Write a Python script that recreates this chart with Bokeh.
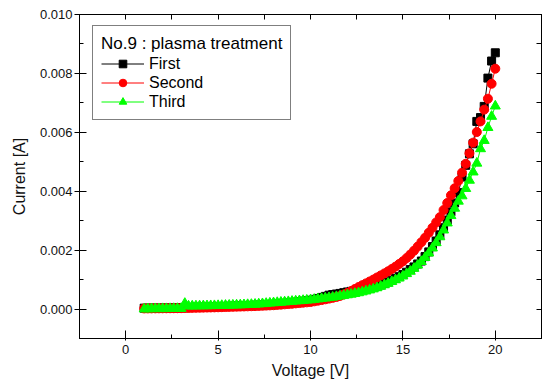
from bokeh.plotting import figure
from bokeh.models import (Legend, LegendItem, LinearAxis, Range1d, FixedTicker,
                          PrintfTickFormatter, ColumnDataSource)
from bokeh.embed import file_html
from bokeh.resources import INLINE

voltage = [1.0, 1.2, 1.4, 1.6, 1.8, 2.0, 2.2, 2.4, 2.6, 2.8,
           3.0, 3.2, 3.4, 3.6, 3.8, 4.0, 4.2, 4.4, 4.6, 4.8,
           5.0, 5.2, 5.4, 5.6, 5.8, 6.0, 6.2, 6.4, 6.6, 6.8,
           7.0, 7.2, 7.4, 7.6, 7.8, 8.0, 8.2, 8.4, 8.6, 8.8,
           9.0, 9.2, 9.4, 9.6, 9.8, 10.0, 10.2, 10.4, 10.6, 10.8,
           11.0, 11.2, 11.4, 11.6, 11.8, 12.0, 12.2, 12.4, 12.6, 12.8,
           13.0, 13.2, 13.4, 13.6, 13.8, 14.0, 14.2, 14.4, 14.6, 14.8,
           15.0, 15.2, 15.4, 15.6, 15.8, 16.0, 16.2, 16.4, 16.6, 16.8,
           17.0, 17.2, 17.4, 17.6, 17.8, 18.0, 18.2, 18.4, 18.6, 18.8,
           19.0, 19.2, 19.4, 19.6, 19.8, 20.0]

first = [0.000030, 0.000031, 0.000032, 0.000033, 0.000034, 0.000036, 0.000037, 0.000038, 0.000040, 0.000042,
         0.000045, 0.000048, 0.000052, 0.000055, 0.000058, 0.000062, 0.000065, 0.000069, 0.000072, 0.000076,
         0.000080, 0.000085, 0.000090, 0.000095, 0.000100, 0.000105, 0.000110, 0.000115, 0.000120, 0.000125,
         0.000130, 0.000135, 0.000140, 0.000148, 0.000155, 0.000160, 0.000172, 0.000184, 0.000196, 0.000208,
         0.000220, 0.000236, 0.000252, 0.000268, 0.000284, 0.000300, 0.000330, 0.000360, 0.000395, 0.000430,
         0.000470, 0.000490, 0.000510, 0.000530, 0.000555, 0.000580, 0.000600, 0.000620, 0.000640, 0.000660,
         0.000680, 0.000710, 0.000740, 0.000775, 0.000820, 0.000870, 0.000920, 0.000980, 0.001040, 0.001100,
         0.001170, 0.001250, 0.001340, 0.001430, 0.001530, 0.001630, 0.001780, 0.001940, 0.002120, 0.002310,
         0.002520, 0.002760, 0.003020, 0.003300, 0.003600, 0.003950, 0.004480, 0.004880, 0.005270, 0.005610,
         0.006370, 0.006500, 0.006880, 0.007840, 0.008420, 0.008700]

second = [0.000020, 0.000021, 0.000022, 0.000023, 0.000024, 0.000025, 0.000026, 0.000027, 0.000028, 0.000029,
          0.000030, 0.000033, 0.000036, 0.000039, 0.000042, 0.000045, 0.000048, 0.000051, 0.000054, 0.000057,
          0.000060, 0.000064, 0.000068, 0.000072, 0.000076, 0.000080, 0.000084, 0.000088, 0.000092, 0.000096,
          0.000100, 0.000106, 0.000112, 0.000118, 0.000124, 0.000130, 0.000140, 0.000150, 0.000160, 0.000170,
          0.000180, 0.000192, 0.000204, 0.000216, 0.000228, 0.000240, 0.000262, 0.000284, 0.000306, 0.000330,
          0.000355, 0.000380, 0.000410, 0.000445, 0.000495, 0.000550, 0.000610, 0.000680, 0.000745, 0.000810,
          0.000870, 0.000935, 0.001000, 0.001070, 0.001140, 0.001210, 0.001280, 0.001360, 0.001440, 0.001530,
          0.001620, 0.001730, 0.001850, 0.001980, 0.002120, 0.002270, 0.002420, 0.002590, 0.002760, 0.002940,
          0.003120, 0.003360, 0.003600, 0.003860, 0.004100, 0.004350, 0.004630, 0.004930, 0.005290, 0.005650,
          0.006010, 0.006370, 0.006770, 0.007140, 0.007650, 0.008160]

third = [0.000000, 0.000005, 0.000008, 0.000010, 0.000010, 0.000012, 0.000012, 0.000014, 0.000015, 0.000016,
         0.000018, 0.000190, 0.000100, 0.000102, 0.000104, 0.000106, 0.000108, 0.000110, 0.000112, 0.000114,
         0.000116, 0.000120, 0.000124, 0.000128, 0.000132, 0.000136, 0.000140, 0.000145, 0.000150, 0.000155,
         0.000160, 0.000170, 0.000180, 0.000190, 0.000200, 0.000210, 0.000220, 0.000230, 0.000240, 0.000250,
         0.000260, 0.000270, 0.000280, 0.000290, 0.000300, 0.000310, 0.000325, 0.000340, 0.000355, 0.000370,
         0.000385, 0.000400, 0.000420, 0.000440, 0.000460, 0.000480, 0.000500, 0.000525, 0.000550, 0.000580,
         0.000610, 0.000645, 0.000680, 0.000720, 0.000770, 0.000820, 0.000870, 0.000930, 0.000990, 0.001050,
         0.001120, 0.001200, 0.001280, 0.001380, 0.001490, 0.001610, 0.001750, 0.001900, 0.002070, 0.002250,
         0.002450, 0.002680, 0.002920, 0.003170, 0.003420, 0.003660, 0.003840, 0.004090, 0.004370, 0.004650,
         0.004950, 0.005440, 0.005720, 0.006160, 0.006540, 0.006890]

series_labels = ["First", "Second", "Third"]
legend_title = "No.9 : plasma treatment"
x_major = [0, 5, 10, 15, 20]
x_minor = [-2.5, 2.5, 7.5, 12.5, 17.5, 22.5]
y_major = [0.000, 0.002, 0.004, 0.006, 0.008, 0.010]
y_minor = [-0.001, 0.001, 0.003, 0.005, 0.007, 0.009]

FONT = "Liberation Sans"

p = figure(width=545, height=385, x_range=Range1d(-2.5, 22.5), y_range=Range1d(-0.001, 0.010),
           output_backend="svg", toolbar_location=None,
           min_border_left=79, min_border_top=14, min_border_right=4, min_border_bottom=47,
           x_axis_label="Voltage [V]", y_axis_label="Current [A]")
p.grid.visible = False
p.outline_line_color = "black"
p.outline_line_width = 1

src = ColumnDataSource(dict(v=voltage, a=first, b=second, c=third))

l1 = p.line("v", "a", source=src, line_color="black", line_width=1)
s1 = p.scatter("v", "a", source=src, marker="square", size=8, fill_color="black", line_color="black")
l2 = p.line("v", "b", source=src, line_color="red", line_width=1)
s2 = p.scatter("v", "b", source=src, marker="circle", size=9, fill_color="red", line_color="red")
l3 = p.line("v", "c", source=src, line_color="#00ff00", line_width=1)
s3 = p.scatter("v", "c", source=src, marker="triangle", size=10, fill_color="#00ff00", line_color="#00ff00")

xa = p.xaxis[0]
xa.ticker = FixedTicker(ticks=x_major, minor_ticks=x_minor)
xa.major_tick_in = 8
xa.major_tick_out = 2
xa.minor_tick_in = 4
xa.minor_tick_out = 0
xa.major_label_standoff = 4
xa.axis_label_standoff = 5

ya = p.yaxis[0]
ya.ticker = FixedTicker(ticks=y_major, minor_ticks=y_minor)
ya.formatter = PrintfTickFormatter(format="%.3f")
ya.major_tick_in = 7
ya.major_tick_out = 5
ya.minor_tick_in = 4
ya.minor_tick_out = 0
ya.major_label_standoff = 2
ya.axis_label_standoff = 9

for ax in (xa, ya):
    ax.axis_line_color = "black"
    ax.major_tick_line_color = "black"
    ax.minor_tick_line_color = "black"
    ax.major_label_text_font = FONT
    ax.major_label_text_font_size = "13px"
    ax.major_label_text_color = "#111111"
    ax.axis_label_text_font = FONT
    ax.axis_label_text_font_size = "16px"
    ax.axis_label_text_font_style = "normal"
    ax.axis_label_text_color = "#111111"

# mirrored axes: tick marks only (no labels)
top = LinearAxis(ticker=FixedTicker(ticks=[], minor_ticks=x_major + x_minor),
                 major_label_standoff=0, major_tick_in=0, major_tick_out=0,
                 minor_tick_in=5, minor_tick_out=0)
right = LinearAxis(ticker=FixedTicker(ticks=[], minor_ticks=y_major + y_minor),
                   major_label_standoff=0, major_tick_in=0, major_tick_out=0,
                   minor_tick_in=5, minor_tick_out=0)
p.add_layout(top, "above")
p.add_layout(right, "right")

legend = Legend(items=[LegendItem(label=series_labels[0], renderers=[l1, s1]),
                       LegendItem(label=series_labels[1], renderers=[l2, s2]),
                       LegendItem(label=series_labels[2], renderers=[l3, s3])],
                title=legend_title, location=(13, 218))
legend.border_line_color = "black"
legend.border_line_width = 1
legend.background_fill_alpha = 1
legend.padding = 8
legend.margin = 0
legend.spacing = 0
legend.label_height = 19
legend.glyph_height = 19
legend.glyph_width = 43
legend.label_standoff = 5
legend.title_standoff = 0
legend.title_text_font = FONT
legend.title_text_font_size = "17px"
legend.title_text_font_style = "normal"
legend.title_text_color = "black"
legend.label_text_font = FONT
legend.label_text_font_size = "16px"
legend.label_text_color = "black"
p.add_layout(legend)

open("out.html", "w").write(file_html(p, INLINE))
